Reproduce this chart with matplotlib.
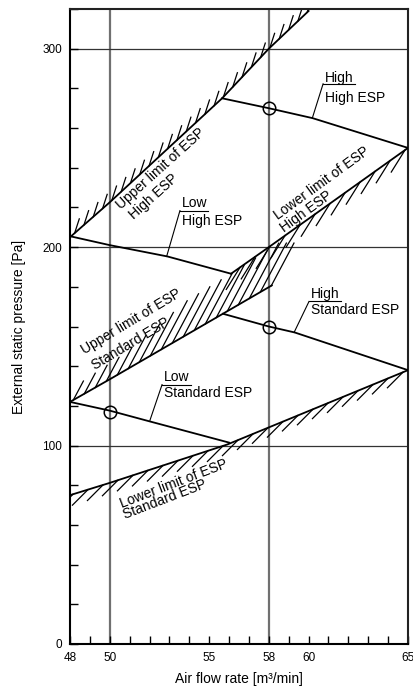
import matplotlib
matplotlib.use('Agg')
import matplotlib.pyplot as plt
import numpy as np

plt.rcParams['font.family'] = ['Liberation Sans', 'DejaVu Sans']

# ---------------- data ----------------
upper_high_x = [48, 50, 55.65, 58, 60]
upper_high_y = [205, 222.6, 275, 300, 319]

high_high_x = [55.65, 58, 60.2, 65]
high_high_y = [275, 270, 265, 250]

low_high_x = [48, 50, 52.9, 56.1]
low_high_y = [205.5, 201, 195.3, 186.6]

lower_high_x = [56.1, 58, 65]
lower_high_y = [186.6, 200, 250]

upper_std_x = [48, 50, 58.15]
upper_std_y = [122, 133.4, 180.7]
upper_std_edge_x = [48, 50.7, 53.9, 56.1, 58.5]
upper_std_edge_y = [128, 146, 173, 186.6, 202]

high_std_x = [55.7, 58, 59.3, 65]
high_std_y = [166.4, 160, 157, 138]

low_std_x = [48, 50, 52.0, 56]
low_std_y = [122, 117.6, 112.2, 101.5]

lower_std_x = [48, 50, 55.9, 65]
lower_std_y = [75, 81.2, 100.5, 138]

op_x = [58, 58, 50]
op_y = [270, 160, 117]

x_ticks = list(range(48, 66))
x_labels = [48, 50, 55, 58, 60, 65]
y_ticks = list(range(0, 321, 20))
y_labels = [0, 100, 200, 300]

# ---------------- figure ----------------
fig = plt.figure(figsize=(4.14, 6.95), dpi=100)
ax = fig.add_axes([70 / 414, 51 / 695, 338 / 414, 635 / 695])
ax.set_xlim(48, 65)
ax.set_ylim(0, 320)

for v in [50, 58]:
    ax.axvline(v, color='#707070', lw=1.6, zorder=1)
for v in [100, 200, 300]:
    ax.axhline(v, color='#333333', lw=0.9, zorder=1)

lk = dict(color='black', lw=1.3, zorder=3)
ax.plot(upper_high_x, upper_high_y, **lk)
ax.plot(high_high_x, high_high_y, **lk)
ax.plot(low_high_x, low_high_y, **lk)
ax.plot(lower_high_x, lower_high_y, **lk)
ax.plot(upper_std_x, upper_std_y, **lk)
ax.plot(high_std_x, high_std_y, **lk)
ax.plot(low_std_x, low_std_y, **lk)
ax.plot(lower_std_x, lower_std_y, **lk)

ax.plot(op_x, op_y, 'o', mfc='none', mec='black', ms=9, mew=1.1, zorder=4)


def to_px(xs, ys):
    return ax.transData.transform(np.column_stack([xs, ys]))


def to_data(p):
    return ax.transData.inverted().transform(p)


def hatch(xs, ys, spacing, angle, length, start=0.5, upper=None):
    P = to_px(xs, ys)
    px = np.arange(P[0, 0] + start * spacing, P[-1, 0], spacing)
    py = np.interp(px, P[:, 0], P[:, 1])
    d = np.array([np.cos(np.radians(angle)), np.sin(np.radians(angle))])
    U = to_px(*upper) if upper is not None else None
    for x0, y0 in zip(px, py):
        L = length
        if U is not None:
            ts = np.linspace(0, 80, 801)
            xx = x0 + ts * d[0]
            yy = y0 + ts * d[1]
            f = yy - np.interp(xx, U[:, 0], U[:, 1])
            idx = np.argmax(f >= 0)
            L = ts[idx]
        seg = np.array([[x0, y0], [x0 + L * d[0], y0 + L * d[1]]])
        sd = to_data(seg)
        ax.plot(sd[:, 0], sd[:, 1], color='black', lw=0.9, zorder=2)


hatch(upper_high_x, upper_high_y, 9.3, 72, 15)
hatch(lower_high_x, lower_high_y, 15, 238, 26, start=0.6)
hatch(upper_std_x, upper_std_y, 11, 62, 20, start=0.3,
      upper=(upper_std_edge_x, upper_std_edge_y))
hatch(lower_std_x, lower_std_y, 15, 225, 22, start=0.2)

# ---------------- axes styling ----------------
ax.set_xticks(x_ticks)
ax.set_xticklabels([str(t) if t in x_labels else '' for t in x_ticks])
ax.set_yticks(y_ticks)
ax.set_yticklabels([str(t) if t in y_labels else '' for t in y_ticks])
ax.tick_params(direction='in', length=6, width=1, labelsize=8.5, pad=5.5,
               top=False, right=False)
for s in ['left', 'bottom']:
    ax.spines[s].set_linewidth(1.5)
    ax.spines[s].set_color('black')
for s in ['top', 'right']:
    ax.spines[s].set_linewidth(1.5)
    ax.spines[s].set_color('#222222')

ax.set_xlabel('Air flow rate [m³/min]', fontsize=10, labelpad=6)
ax.set_ylabel('External static pressure [Pa]', fontsize=10, labelpad=12)

# ---------------- rotated labels ----------------
fs = 10
rot_labels = [
    ('Upper limit of ESP', 52.58, 239.6, 42),
    ('High ESP', 52.2, 225.2, 42),
    ('Upper limit of ESP', 51.1, 162.2, 31),
    ('Standard ESP', 51.06, 151.3, 31),
    ('Lower limit of ESP', 60.66, 232.3, 36),
    ('High ESP', 59.9, 218.0, 36),
    ('Lower limit of ESP', 53.2, 80.5, 21),
    ('Standard ESP', 52.78, 73.0, 21),
]
for txt, x, y, r in rot_labels:
    ax.text(x, y, txt, rotation=r, ha='center', va='center', fontsize=fs,
            zorder=5)

# ---------------- stacked labels with leaders ----------------
stacked = [
    # top word, bottom word, text x, top y, bottom y, underline y, leader foot
    ('High', 'High ESP', 60.83, 285.4, 275.3, 282.3, (60.19, 265.1)),
    ('Low', 'High ESP', 53.63, 222.4, 213.4, 218.4, (52.86, 195.3)),
    ('High', 'Standard ESP', 60.12, 176.6, 168.1, 172.6, (59.27, 157.0)),
    ('Low', 'Standard ESP', 52.73, 134.5, 126.3, 130.7, (52.02, 112.7)),
]
tops = []
for top, bot, x, yt, yb, yu, lead in stacked:
    t = ax.text(x, yt, top, ha='left', va='center', fontsize=fs, zorder=5)
    ax.text(x, yb, bot, ha='left', va='center', fontsize=fs, zorder=5)
    tops.append((t, x, yu, lead))

fig.canvas.draw()
r = fig.canvas.get_renderer()
for t, x, yu, lead in tops:
    bb = t.get_window_extent(r)
    x1 = to_data(np.array([[bb.x1, 0]]))[0, 0]
    ax.plot([x - 0.1, x1 + 0.05], [yu, yu], color='black', lw=0.8, zorder=5)
    ax.plot([lead[0], x - 0.1], [lead[1], yu], color='black', lw=0.8, zorder=5)

fig.savefig('out.png', dpi=100)
